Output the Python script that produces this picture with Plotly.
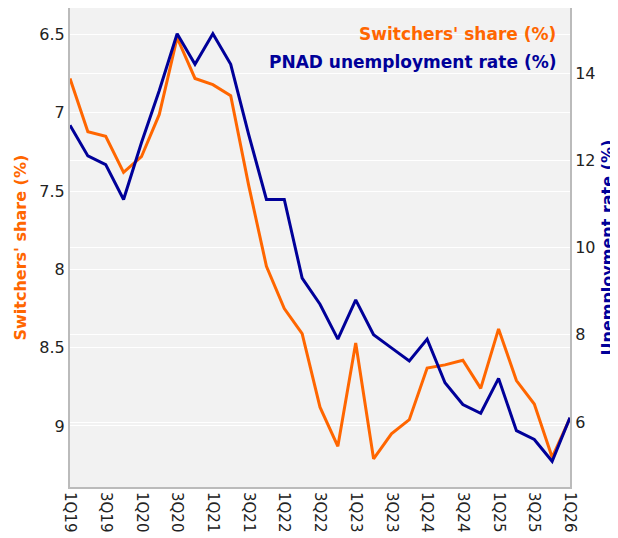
import plotly.graph_objects as go

QUARTERS = [
    "1Q19", "2Q19", "3Q19", "4Q19", "1Q20", "2Q20", "3Q20", "4Q20",
    "1Q21", "2Q21", "3Q21", "4Q21", "1Q22", "2Q22", "3Q22", "4Q22",
    "1Q23", "2Q23", "3Q23", "4Q23", "1Q24", "2Q24", "3Q24", "4Q24",
    "1Q25", "2Q25", "3Q25", "4Q25", "1Q26",
]
SWITCHERS_SHARE = [
    6.78, 7.12, 7.15, 7.38, 7.28, 7.01, 6.52, 6.78,
    6.82, 6.89, 7.46, 7.98, 8.25, 8.41, 8.88, 9.13,
    8.47, 9.21, 9.05, 8.96, 8.63, 8.61, 8.58, 8.76,
    8.38, 8.71, 8.86, 9.20, 8.95,
]
UNEMPLOYMENT = [
    12.8, 12.1, 11.9, 11.1, 12.4, 13.6, 14.9, 14.2,
    14.9, 14.2, 12.6, 11.1, 11.1, 9.3, 8.7, 7.9,
    8.8, 8.0, 7.7, 7.4, 7.9, 6.9, 6.4, 6.2,
    7.0, 5.8, 5.6, 5.1, 6.1,
]

ORANGE = "#ff6600"
NAVY = "#000099"
FONT = "DejaVu Sans"

# the page body adds an 8px offset, so the figure is sized to fit inside it
W, H = 610, 530
MARGIN = {"l": 62, "r": 48, "t": 0, "b": 51}

x = list(range(len(QUARTERS)))

fig = go.Figure()
fig.add_trace(go.Scatter(x=x, y=SWITCHERS_SHARE, mode="lines", line={"color": ORANGE, "width": 3},
                         name="Switchers' share (%)", yaxis="y"))
fig.add_trace(go.Scatter(x=x, y=UNEMPLOYMENT, mode="lines", line={"color": NAVY, "width": 3},
                         name="PNAD unemployment rate (%)", yaxis="y2"))

axis_common = dict(showline=True, linecolor="#bbbbbb", linewidth=2, zeroline=False,
                   gridcolor="white", gridwidth=1, ticks="", automargin=False,
                   tickfont={"family": FONT, "size": 16, "color": "#222222"})

# axis titles placed as annotations so they sit where the reference has them
plot_w = W - MARGIN["l"] - MARGIN["r"]
left_title_x = (12 - MARGIN["l"]) / plot_w
right_title_x = (599 - MARGIN["l"]) / plot_w

fig.update_layout(
    width=W,
    height=H,
    margin=MARGIN,
    paper_bgcolor="white",
    plot_bgcolor="#f2f2f2",
    showlegend=False,
    font={"family": FONT},
    xaxis=dict(
        axis_common,
        range=[0, len(QUARTERS) - 1],
        tickvals=x[::2],
        ticktext=QUARTERS[::2],
        tickangle=90,
        showgrid=False,
        tickfont={"family": FONT, "size": 15, "color": "#222222"},
    ),
    yaxis=dict(
        axis_common,
        range=[9.39, 6.33],
        dtick=0.5,
    ),
    yaxis2=dict(
        axis_common,
        overlaying="y",
        side="right",
        range=[4.51, 15.49],
        dtick=2,
    ),
    annotations=[
        dict(text="<b>Switchers' share (%)</b>", xref="paper", yref="paper", x=0.975, y=0.945,
             xanchor="right", yanchor="middle", showarrow=False,
             font={"family": FONT, "size": 17, "color": ORANGE}),
        dict(text="<b>PNAD unemployment rate (%)</b>", xref="paper", yref="paper", x=0.975, y=0.887,
             xanchor="right", yanchor="middle", showarrow=False,
             font={"family": FONT, "size": 17, "color": NAVY}),
        dict(text="<b>Switchers' share (%)</b>", xref="paper", yref="paper", x=left_title_x, y=0.5,
             xanchor="center", yanchor="middle", showarrow=False, textangle=-90,
             font={"family": FONT, "size": 16, "color": ORANGE}),
        dict(text="<b>Unemployment rate (%)</b>", xref="paper", yref="paper", x=right_title_x, y=0.5,
             xanchor="center", yanchor="middle", showarrow=False, textangle=-90,
             font={"family": FONT, "size": 16, "color": NAVY}),
    ],
)

fig.write_html("out.html")
